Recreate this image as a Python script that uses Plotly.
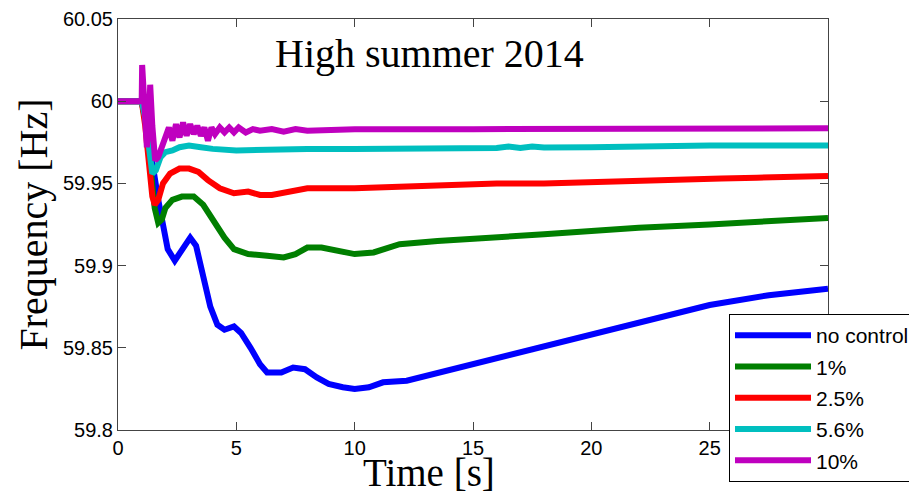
import plotly.graph_objects as go

# ---- data ----
names = ["no control", "1%", "2.5%", "5.6%", "10%"]
colors = ["#0000FF", "#007F00", "#FF0000", "#00BFBF", "#BF00BF"]

t_nc = [0, 1.0, 1.15, 1.3, 1.5, 1.7, 1.9, 2.1, 2.4, 2.7, 3.05, 3.3, 3.6, 3.9, 4.2, 4.5, 4.9, 5.2, 5.6,
        6.0, 6.3, 6.9, 7.4, 7.9, 8.4, 8.9, 9.5, 10.0, 10.6, 11.2, 12.2, 13.3, 14.8, 16.2, 18.0, 20.0,
        22.0, 25.0, 27.5, 30.0]
f_nc = [60.0, 60.0, 59.99, 59.975, 59.955, 59.94, 59.925, 59.91, 59.903, 59.909, 59.917, 59.912,
        59.895, 59.875, 59.864, 59.861, 59.863, 59.859, 59.850, 59.840, 59.835, 59.835, 59.838,
        59.837, 59.832, 59.828, 59.826, 59.825, 59.826, 59.829, 59.830, 59.834, 59.839, 59.844,
        59.851, 59.858, 59.866, 59.876, 59.882, 59.886]

t_1 = [0, 1.0, 1.2, 1.4, 1.55, 1.7, 1.85, 2.0, 2.3, 2.7, 3.2, 3.6, 4.0, 4.5, 4.9, 5.5, 6.3, 7.0, 7.5,
       8.0, 8.6, 9.3, 10.0, 10.8, 11.9, 13.5, 16.2, 18.0, 20.0, 22.0, 25.0, 27.5, 30.0]
f_1 = [60.0, 60.0, 59.985, 59.955, 59.935, 59.926, 59.928, 59.935, 59.940, 59.942, 59.942, 59.937,
       59.928, 59.917, 59.910, 59.907, 59.906, 59.905, 59.907, 59.911, 59.911, 59.909, 59.907,
       59.908, 59.913, 59.915, 59.917, 59.919, 59.921, 59.923, 59.925, 59.927, 59.929]

t_25 = [0, 1.0, 1.15, 1.3, 1.45, 1.55, 1.7, 1.9, 2.2, 2.6, 3.0, 3.4, 3.8, 4.3, 4.9, 5.5, 6.0, 6.5,
        7.2, 8.0, 10.0, 12.0, 14.0, 16.0, 18.0, 20.0, 22.0, 24.0, 25.5, 27.0, 30.0]
f_25 = [60.0, 60.0, 59.985, 59.96, 59.942, 59.937, 59.94, 59.95, 59.956, 59.959, 59.959, 59.957,
        59.952, 59.947, 59.944, 59.945, 59.943, 59.943, 59.945, 59.947, 59.947, 59.948, 59.949,
        59.950, 59.950, 59.951, 59.952, 59.953, 59.953, 59.9535, 59.9545]

t_56 = [0, 1.0, 1.15, 1.3, 1.45, 1.6, 1.8, 2.0, 2.3, 2.6, 3.0, 3.5, 4.0, 5.0, 6.0, 8.0, 10.0, 12.0,
        14.0, 16.0, 16.5, 17.0, 17.5, 18.0, 20.0, 22.0, 25.0, 30.0]
f_56 = [60.0, 60.0, 59.99, 59.97, 59.956, 59.958, 59.966, 59.969, 59.970, 59.972, 59.973, 59.972,
        59.971, 59.970, 59.9705, 59.971, 59.971, 59.971, 59.971, 59.9715, 59.9725, 59.9715, 59.9725,
        59.9718, 59.972, 59.9725, 59.973, 59.973]

t_10 = [0, 1.0, 1.02, 1.1, 1.22, 1.3, 1.36, 1.45, 1.57, 1.7, 1.85, 2.0, 2.15, 2.3, 2.45, 2.6, 2.75,
        2.9, 3.05, 3.2, 3.35, 3.5, 3.65, 3.8, 3.95, 4.1, 4.3, 4.5, 4.7, 4.9, 5.1, 5.4, 5.7, 6.0, 6.5,
        7.0, 7.5, 8.0, 10.0, 15.0, 20.0, 25.0, 30.0]
f_10 = [60.0, 60.0, 60.022, 59.995, 59.972, 59.985, 60.01, 59.985, 59.964, 59.966, 59.972, 59.978,
        59.984, 59.976, 59.986, 59.978, 59.987, 59.979, 59.986, 59.980, 59.985, 59.979, 59.984,
        59.976, 59.984, 59.980, 59.984, 59.981, 59.984, 59.981, 59.984, 59.981, 59.983, 59.982,
        59.983, 59.9815, 59.983, 59.982, 59.983, 59.983, 59.9833, 59.9835, 59.9835]

series_t = [t_nc, t_1, t_25, t_56, t_10]
series_f = [f_nc, f_1, f_25, f_56, f_10]

x_ticks = [0, 5, 10, 15, 20, 25]
y_ticks = [59.8, 59.85, 59.9, 59.95, 60.0, 60.05]
y_ticktext = ["59.8", "59.85", "59.9", "59.95", "60", "60.05"]

fig = go.Figure()
for i, (nm, col, tt, ff) in enumerate(zip(names, colors, series_t, series_f)):
    fig.add_trace(go.Scatter(x=tt, y=ff, mode="lines", name=nm, legendgroup=str(i),
                             line=dict(color=col, width=6)))

axis_common = dict(showline=True, linecolor="#444444", linewidth=1, mirror="ticks",
                   ticks="inside", ticklen=8, tickcolor="#444444", showgrid=False,
                   zeroline=False, tickfont=dict(family="Liberation Sans", size=20, color="black"))

fig.update_layout(
    width=909, height=497,
    margin=dict(l=118, r=81, t=19, b=67, autoexpand=False),
    paper_bgcolor="white", plot_bgcolor="white",
    xaxis=dict(range=[0, 30], tickvals=x_ticks, **axis_common),
    yaxis=dict(range=[59.8, 60.05], tickvals=y_ticks, ticktext=y_ticktext, **axis_common,
               title=dict(text="Frequency [Hz]", font=dict(family="Liberation Serif", size=40, color="black"),
                          standoff=2)),
    legend=dict(x=(729 - 118) / 710, y=(430 - 314) / 411, xanchor="left", yanchor="top",
                bgcolor="white", bordercolor="black", borderwidth=1,
                font=dict(family="Liberation Sans", size=21, color="black"),
                tracegroupgap=1, itemwidth=76),
    showlegend=True,
    annotations=[
        dict(text="High summer 2014", x=(429 - 118) / 710, y=(430 - 53) / 411, xref="paper", yref="paper",
             xanchor="center", yanchor="middle",
             showarrow=False, font=dict(family="Liberation Serif", size=40, color="black")),
        dict(text="Time [s]", x=(429 - 118) / 710, y=(430 - 472) / 411, xref="paper", yref="paper",
             xanchor="center", yanchor="middle",
             showarrow=False, font=dict(family="Liberation Serif", size=39, color="black")),
    ],
)

fig.write_html("out.html")
